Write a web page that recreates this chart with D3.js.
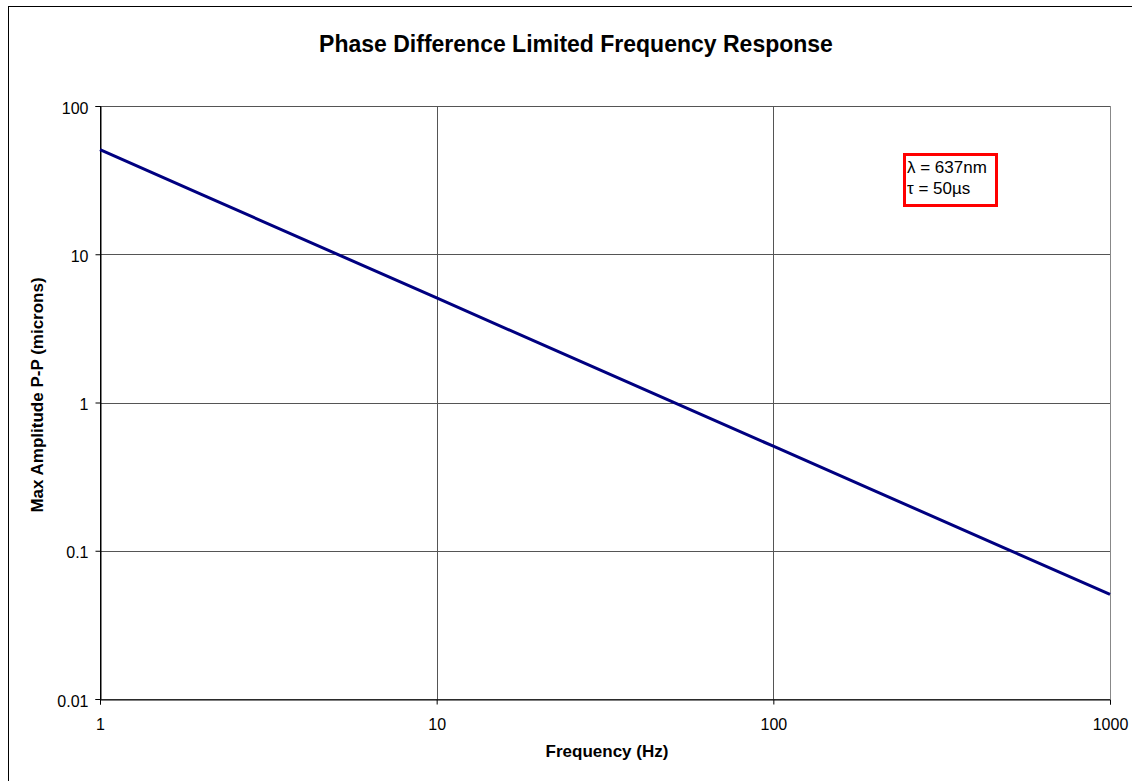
<!DOCTYPE html>
<html>
<head>
<meta charset="utf-8">
<script src="https://cdn.jsdelivr.net/npm/d3@7"></script>
<style>
body { margin: 0; background: #fff; }
text { font-family: Arial, "Liberation Sans", sans-serif; }
</style>
</head>
<body>
<svg id="chart"></svg>
<script>
// data
let freqs = [1, 2, 5, 10, 20, 50, 100, 200, 500, 1000];
let amps = [50.7, 25.35, 10.14, 5.07, 2.535, 1.014, 0.507, 0.2535, 0.1014, 0.0507];
let yTicks = [0.01, 0.1, 1, 10, 100];
let xTicks = [1, 10, 100, 1000];
let legendLines = ['\u03bb = 637nm', '\u03c4 = 50\u00b5s'];

let width = 1132;
let height = 781;
let plotLeft = 100, plotRight = 1110, plotTop = 106, plotBottom = 699;

let svg = d3.select('#chart').attr('width', width).attr('height', height);

// outer chart border
svg.append('rect')
    .attr('x', 8.5).attr('y', 6.5)
    .attr('width', 1140).attr('height', 800)
    .attr('fill', 'none').attr('stroke', '#000').attr('stroke-width', 1);

let xScale = d3.scaleLog().domain([1, 1000]).range([plotLeft, plotRight]);
let yScale = d3.scaleLog().domain([0.01, 100]).range([plotBottom, plotTop]);

// grid
svg.append('g').selectAll('line')
    .data(yTicks)
    .enter().append('line')
    .attr('x1', plotLeft).attr('x2', plotRight)
    .attr('y1', d => Math.round(yScale(d)) + 0.5)
    .attr('y2', d => Math.round(yScale(d)) + 0.5)
    .attr('stroke', '#555').attr('stroke-width', 1);

svg.append('g').selectAll('line')
    .data(xTicks)
    .enter().append('line')
    .attr('y1', plotTop).attr('y2', plotBottom)
    .attr('x1', d => Math.round(xScale(d)) + 0.5)
    .attr('x2', d => Math.round(xScale(d)) + 0.5)
    .attr('stroke', d => (d === 1 ? '#000' : '#555')).attr('stroke-width', 1);

// plot frame right side in gray
svg.append('line')
    .attr('x1', plotRight + 0.5).attr('x2', plotRight + 0.5)
    .attr('y1', plotTop).attr('y2', plotBottom)
    .attr('stroke', '#888');

// axes
let xAxis = d3.axisBottom(xScale).tickValues(xTicks).tickFormat(d3.format('')).tickSize(5).tickPadding(14);
let yAxis = d3.axisLeft(yScale).tickValues(yTicks).tickFormat(d => String(d)).tickSize(5).tickPadding(7);

let gx = svg.append('g')
    .attr('transform', 'translate(0,' + (Math.round(yScale(0.01)) + 0.5) + ')')
    .call(xAxis);
let gy = svg.append('g')
    .attr('transform', 'translate(' + (Math.round(xScale(1)) + 0.5) + ',0)')
    .call(yAxis);

[gx, gy].forEach(g => {
    g.select('.domain').attr('stroke', '#000');
    g.selectAll('.tick line').attr('stroke', '#000');
    g.selectAll('.tick text').attr('font-size', 16).attr('fill', '#000')
        .style('font-family', 'Arial, "Liberation Sans", sans-serif');
});
gy.selectAll('.tick text').attr('dy', '0.45em');

// series line
let line = d3.line()
    .x((d, i) => xScale(freqs[i]))
    .y(d => yScale(d));

svg.append('path')
    .datum(amps)
    .attr('d', line)
    .attr('fill', 'none')
    .attr('stroke', '#000080')
    .attr('stroke-width', 3);

// titles
svg.append('text')
    .attr('x', 576).attr('y', 52)
    .attr('text-anchor', 'middle')
    .attr('font-size', 23).attr('font-weight', 'bold')
    .text('Phase Difference Limited Frequency Response');

svg.append('text')
    .attr('x', 607).attr('y', 757)
    .attr('text-anchor', 'middle')
    .attr('font-size', 17).attr('font-weight', 'bold')
    .text('Frequency (Hz)');

svg.append('text')
    .attr('transform', 'translate(43,395) rotate(-90)')
    .attr('text-anchor', 'middle')
    .attr('font-size', 17).attr('font-weight', 'bold')
    .text('Max Amplitude P-P (microns)');

// legend box
svg.append('rect')
    .attr('x', 904.5).attr('y', 154.5)
    .attr('width', 92).attr('height', 51)
    .attr('fill', '#fff').attr('stroke', '#ff0000').attr('stroke-width', 3);

svg.append('g').selectAll('text')
    .data(legendLines)
    .enter().append('text')
    .attr('x', 907)
    .attr('y', (d, i) => 173 + i * 21)
    .attr('font-size', 17)
    .text(d => d);
</script>
</body>
</html>
